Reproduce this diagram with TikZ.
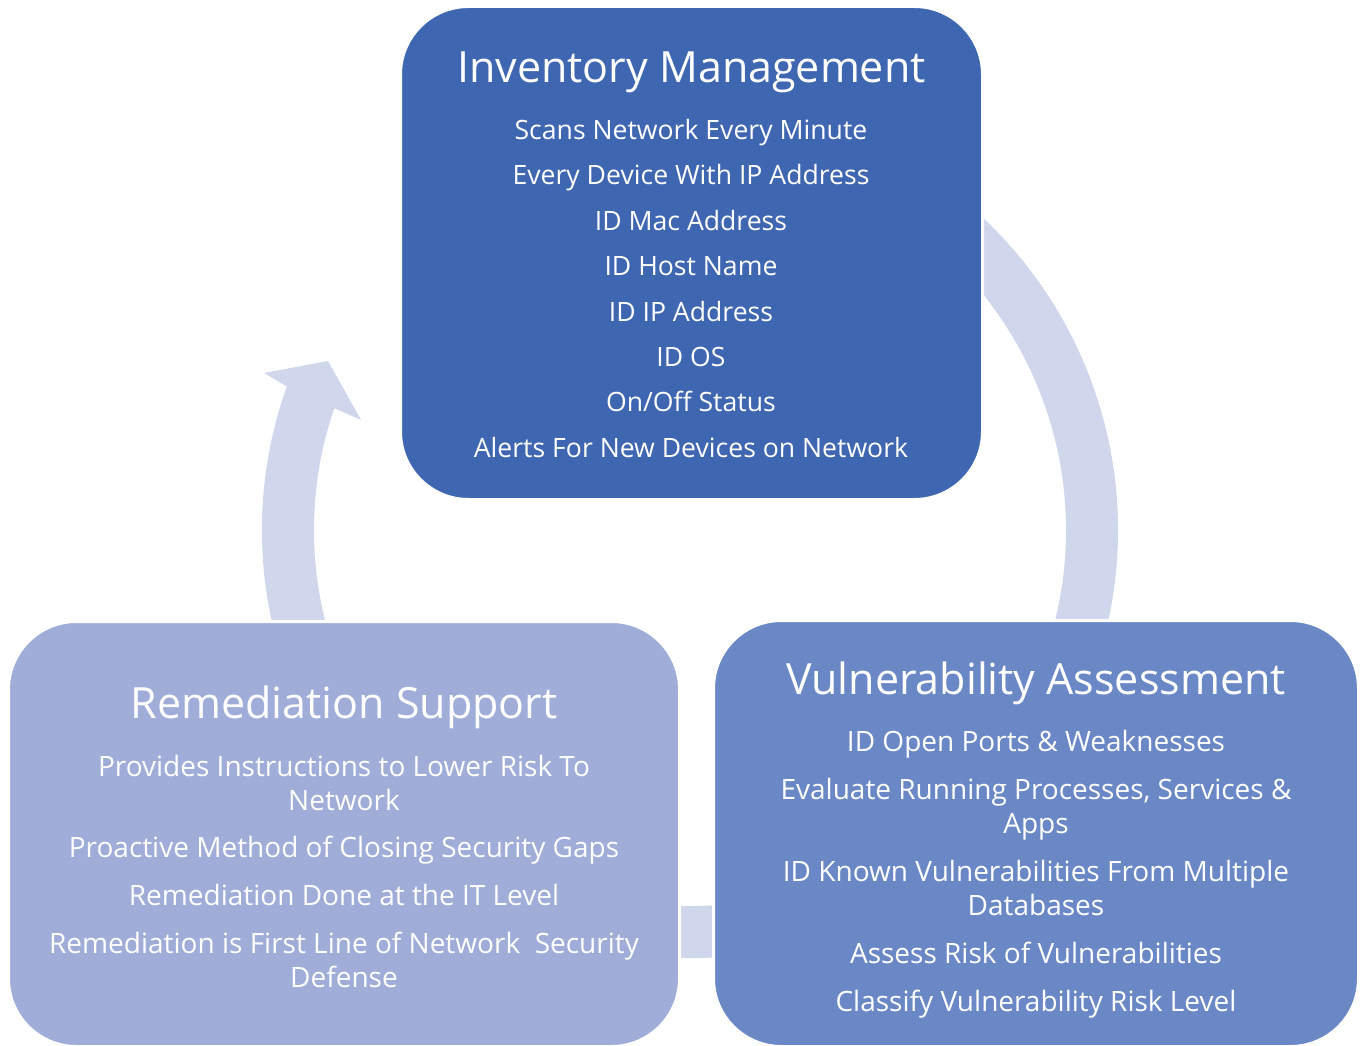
\documentclass[tikz,border=0pt]{standalone}
\usepackage{fontspec}
\setmainfont{Open Sans}
\usetikzlibrary{calc}
\definecolor{topc}{HTML}{3F67B1}
\definecolor{rightc}{HTML}{6B88C6}
\definecolor{leftc}{HTML}{9FADD8}
\definecolor{ringc}{HTML}{D0D6EB}
\tikzset{
  box/.style={draw=white, line width=3pt, rounded corners=68pt, inner sep=0pt, outer sep=0pt},
  ttl/.style={text=white, anchor=base, inner sep=0pt, font=\fontsize{43}{50}\selectfont},
  itmtop/.style={text=white, anchor=base, inner sep=0pt, font=\fontsize{26.6}{32}\selectfont},
  itmbot/.style={text=white, anchor=base, inner sep=0pt, font=\fontsize{28}{34}\selectfont},
}
\begin{document}
\begin{tikzpicture}[x=1pt,y=1pt]
\useasboundingbox (0,0) rectangle (1361,-1046);
% cycle arrow (ring with head)
\coordinate (ctr) at (690,-530);
\fill[ringc] ($(ctr)+(160.4:428)$) arc[start angle=160.4, end angle=420, radius=428]
  -- ($(ctr)+(420:376)$) arc[start angle=420, end angle=161.1, radius=376]
  -- (361,-420) -- (328,-361) -- (264,-373) -- cycle;
% boxes
\node[box, fill=topc, minimum width=582pt, minimum height=493pt] (inv) at (691.5,-253) {};
\node[box, fill=leftc, minimum width=671pt, minimum height=425pt] (rem) at (344,-834) {};
\node[box, fill=rightc, minimum width=645pt, minimum height=426pt] (vul) at (1036,-833.5) {};
% Inventory Management
\node[ttl] (invt) at (691.5,-83) {Inventory Management};
\node[itmtop] (inv1) at (691,-140) {Scans Network Every Minute};
\node[itmtop] (inv2) at (691,-185) {Every Device With IP Address};
\node[itmtop] (inv3) at (691,-230) {ID Mac Address};
\node[itmtop] (inv4) at (691,-275) {ID Host Name};
\node[itmtop] (inv5) at (691,-321) {ID IP Address};
\node[itmtop] (inv6) at (691,-366) {ID OS};
\node[itmtop] (inv7) at (691,-411) {On/Off Status};
\node[itmtop] (inv8) at (691,-457) {Alerts For New Devices on Network};
% Vulnerability Assessment
\node[ttl] (vult) at (1036,-694) {Vulnerability Assessment};
\node[itmbot] (vul1) at (1036,-751) {ID Open Ports \& Weaknesses};
\node[itmbot] (vul2a) at (1036,-799) {Evaluate Running Processes, Services \&};
\node[itmbot] (vul2b) at (1036,-833) {Apps};
\node[itmbot] (vul3a) at (1036,-881) {ID Known Vulnerabilities From Multiple};
\node[itmbot] (vul3b) at (1036,-915) {Databases};
\node[itmbot] (vul4) at (1036,-963) {Assess Risk of Vulnerabilities};
\node[itmbot] (vul5) at (1036,-1011) {Classify Vulnerability Risk Level};
% Remediation Support
\node[ttl] (remt) at (344,-718) {Remediation Support};
\node[itmbot] (rem1a) at (344,-776) {Provides Instructions to Lower Risk To};
\node[itmbot] (rem1b) at (344,-810) {Network};
\node[itmbot] (rem2) at (344,-857) {Proactive Method of Closing Security Gaps};
\node[itmbot] (rem3) at (344,-905) {Remediation Done at the IT Level};
\node[itmbot] (rem4a) at (344,-953) {Remediation is First Line of Network\ \ Security};
\node[itmbot] (rem4b) at (344,-987) {Defense};
\end{tikzpicture}
\end{document}
